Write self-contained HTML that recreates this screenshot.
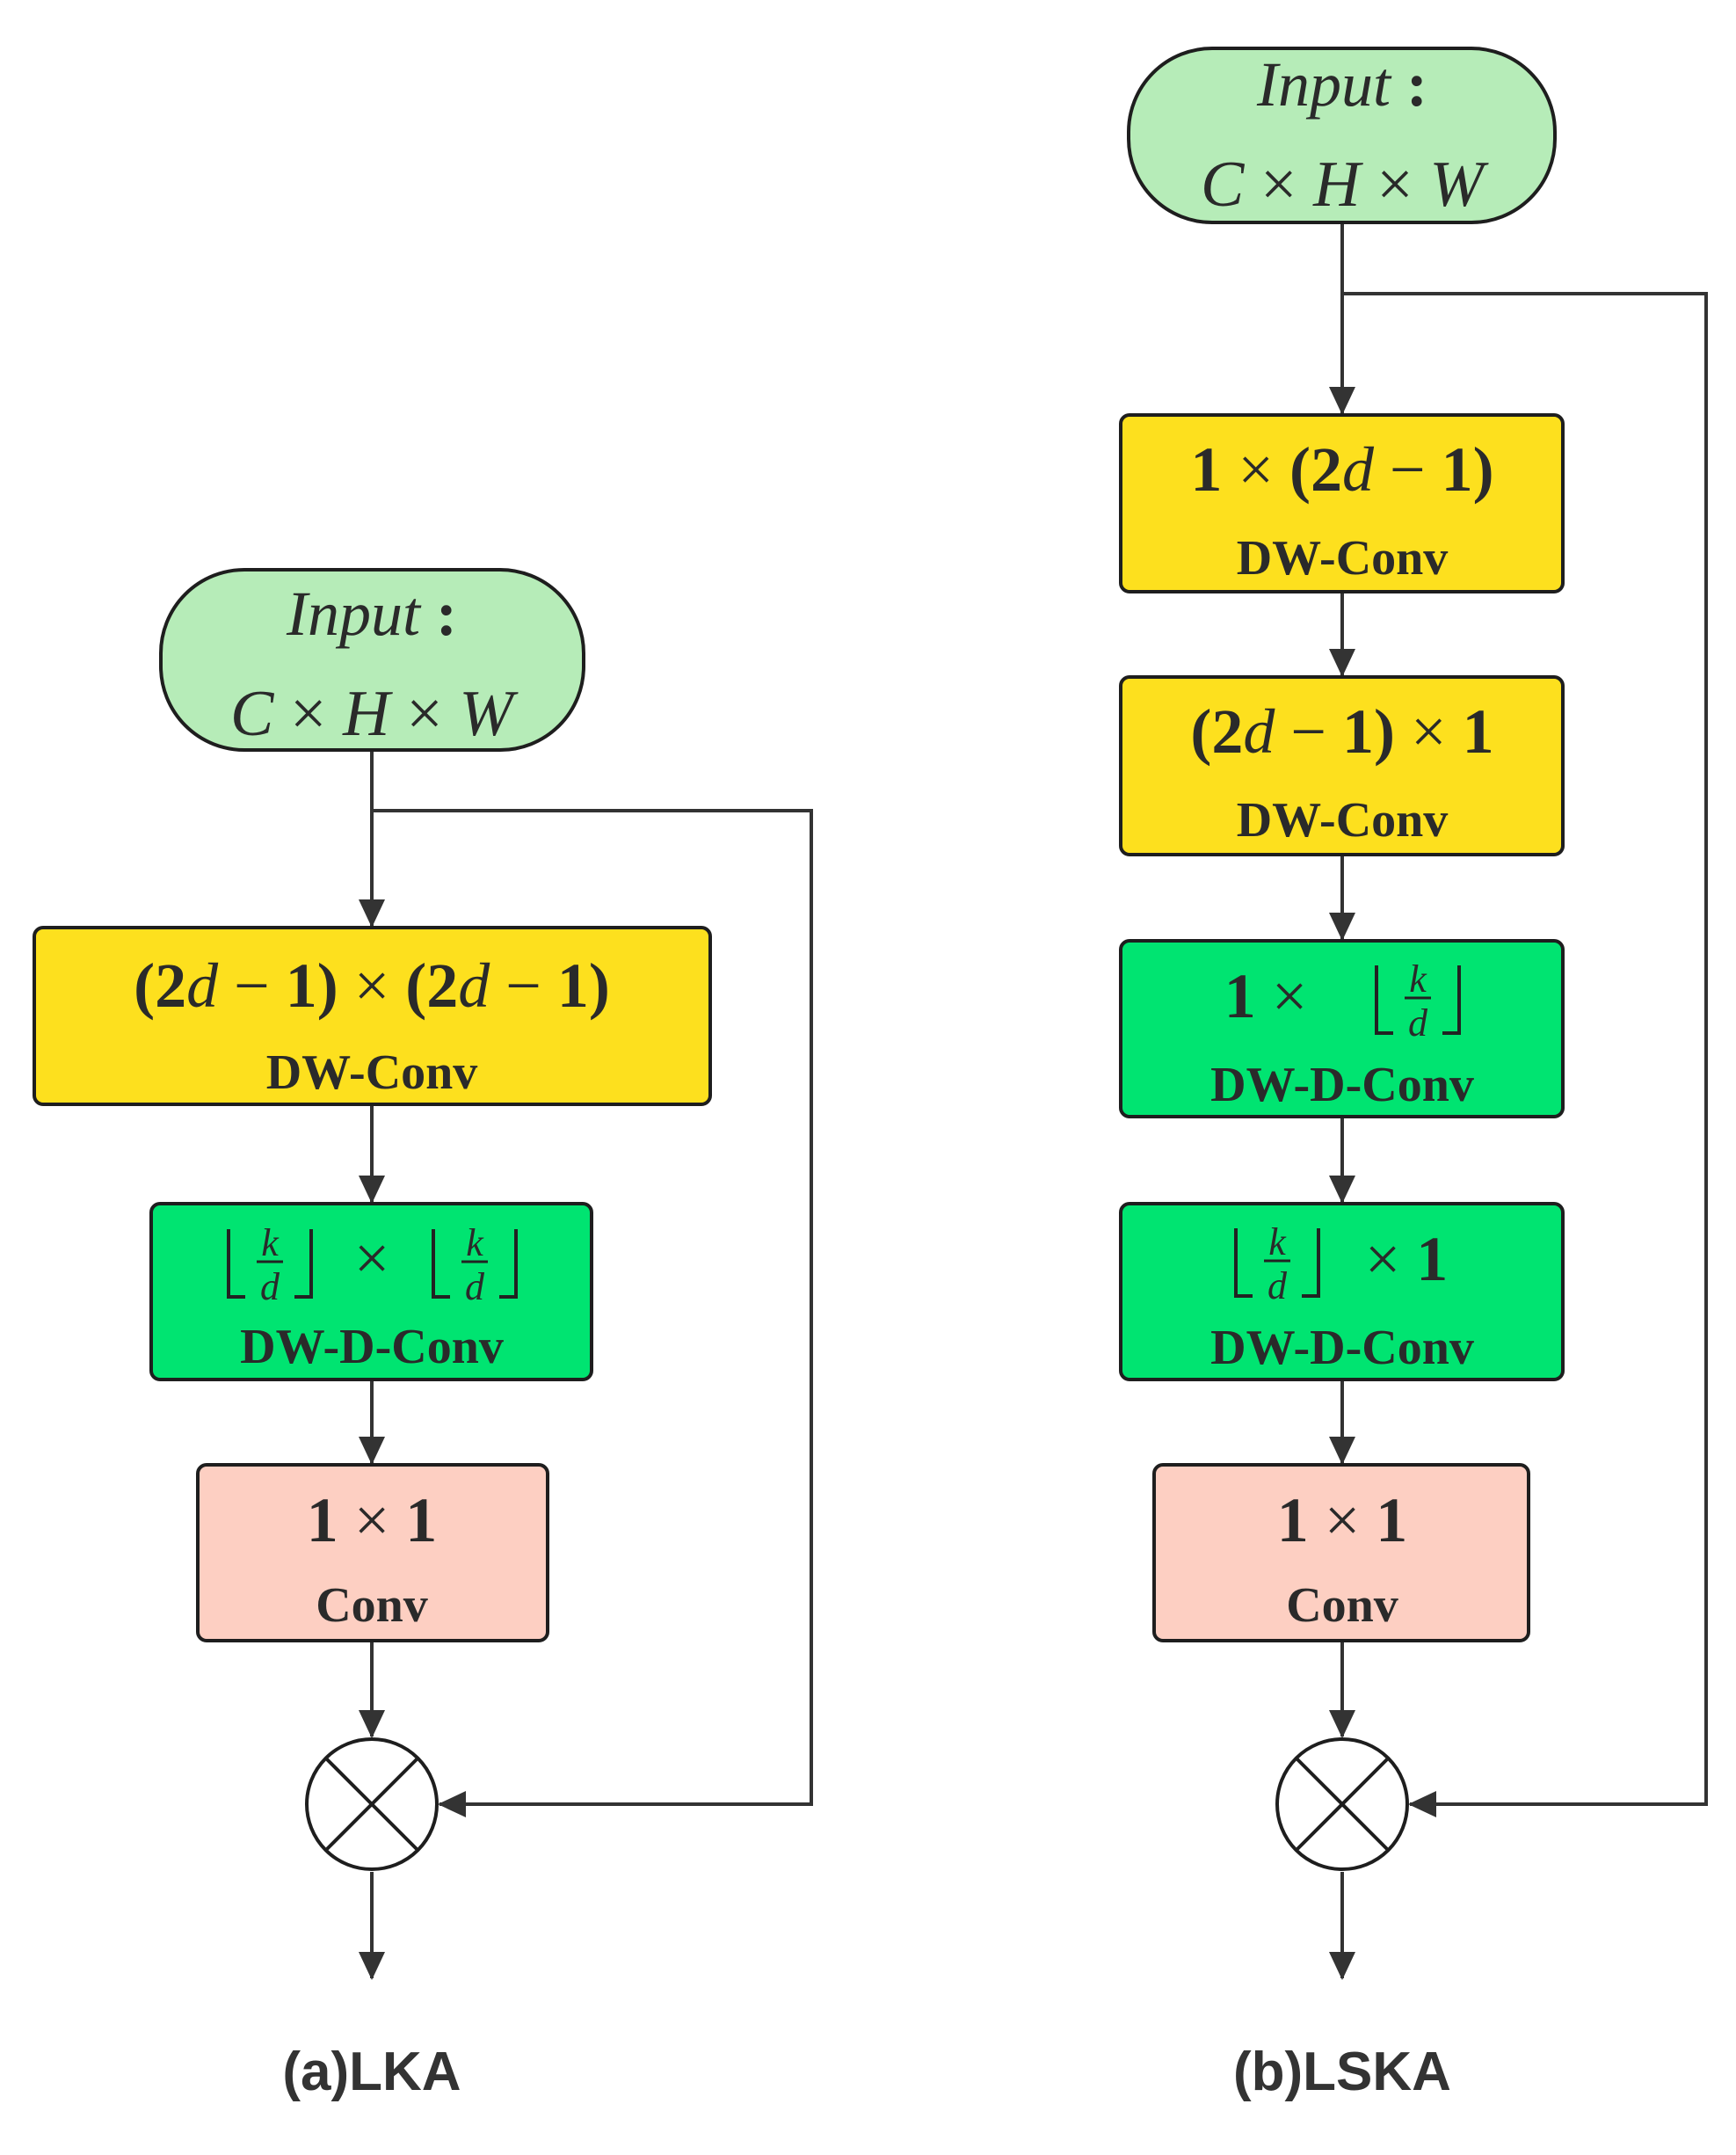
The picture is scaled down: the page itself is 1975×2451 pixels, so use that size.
<!DOCTYPE html>
<html><head><meta charset="utf-8"><style>
html,body{margin:0;padding:0;background:#fff;}
svg{display:block;}
.m{font-family:"Liberation Serif",serif;fill:#2a2a2a;}
.b{font-weight:bold;}
.i{font-style:italic;}
.lbl{font-family:"Liberation Sans",sans-serif;font-weight:bold;fill:#333;}
</style></head><body>
<svg width="1975" height="2451" viewBox="0 0 1975 2451" xmlns="http://www.w3.org/2000/svg">
<defs>
<marker id="ar" markerWidth="34" markerHeight="34" refX="30" refY="17" orient="auto" markerUnits="userSpaceOnUse">
<path d="M0,2 L32,17 L0,32 Z" fill="#333"/>
</marker>
</defs>
<g stroke="#333" stroke-width="4" fill="none">
<!-- Left connectors -->
<line x1="423" y1="853" x2="423" y2="1053" marker-end="url(#ar)"/>
<polyline points="423,922 923,922 923,2052 500,2052" marker-end="url(#ar)"/>
<line x1="423" y1="1256" x2="423" y2="1367" marker-end="url(#ar)"/>
<line x1="423" y1="1569" x2="423" y2="1664" marker-end="url(#ar)"/>
<line x1="423" y1="1866" x2="423" y2="1975" marker-end="url(#ar)"/>
<line x1="423" y1="2129" x2="423" y2="2250" marker-end="url(#ar)"/>
<!-- Right connectors -->
<line x1="1527" y1="253" x2="1527" y2="470" marker-end="url(#ar)"/>
<polyline points="1527,334 1941,334 1941,2052 1604,2052" marker-end="url(#ar)"/>
<line x1="1527" y1="673" x2="1527" y2="768" marker-end="url(#ar)"/>
<line x1="1527" y1="972" x2="1527" y2="1068" marker-end="url(#ar)"/>
<line x1="1527" y1="1270" x2="1527" y2="1367" marker-end="url(#ar)"/>
<line x1="1527" y1="1569" x2="1527" y2="1664" marker-end="url(#ar)"/>
<line x1="1527" y1="1866" x2="1527" y2="1975" marker-end="url(#ar)"/>
<line x1="1527" y1="2129" x2="1527" y2="2250" marker-end="url(#ar)"/>
</g>
<!-- Boxes -->
<g stroke="#1e1e1e" stroke-width="4">
<rect x="183" y="648" width="481" height="205" rx="95" fill="#b6ecb8"/>
<rect x="39" y="1055" width="769" height="201" rx="10" fill="#fde01e"/>
<rect x="172" y="1369" width="501" height="200" rx="10" fill="#00e471"/>
<rect x="225" y="1666" width="398" height="200" rx="10" fill="#fdcfc2"/>
<circle cx="423" cy="2052" r="74" fill="#fff"/>
<rect x="1284" y="55" width="485" height="198" rx="95" fill="#b6ecb8"/>
<rect x="1275" y="472" width="503" height="201" rx="10" fill="#fde01e"/>
<rect x="1275" y="770" width="503" height="202" rx="10" fill="#fde01e"/>
<rect x="1275" y="1070" width="503" height="200" rx="10" fill="#00e471"/>
<rect x="1275" y="1369" width="503" height="200" rx="10" fill="#00e471"/>
<rect x="1313" y="1666" width="426" height="200" rx="10" fill="#fdcfc2"/>
<circle cx="1527" cy="2052" r="74" fill="#fff"/>
</g>
<g stroke="#1e1e1e" stroke-width="4">
<line x1="372" y1="2001" x2="474" y2="2103"/><line x1="474" y1="2001" x2="372" y2="2103"/>
<line x1="1476" y1="2001" x2="1578" y2="2103"/><line x1="1578" y1="2001" x2="1476" y2="2103"/>
</g>
<!-- Left text -->
<text class="m i" x="423" y="722" font-size="72" text-anchor="middle">Input <tspan class="b" font-style="normal">:</tspan></text>
<text class="m i" x="423" y="836" font-size="74" text-anchor="middle">C <tspan font-style="normal">×</tspan> H <tspan font-style="normal">×</tspan> W</text>
<text class="m" x="423" y="1145" font-size="72" text-anchor="middle"><tspan class="b">(2</tspan><tspan class="i">d</tspan> − <tspan class="b">1)</tspan> × <tspan class="b">(2</tspan><tspan class="i">d</tspan> − <tspan class="b">1)</tspan></text>
<text class="m b" x="423" y="1238" font-size="56" text-anchor="middle">DW-Conv</text>
<text class="m b" x="423" y="1550" font-size="56" text-anchor="middle">DW-D-Conv</text>
<text class="m" x="423" y="1455" font-size="72" text-anchor="middle">×</text>
<text class="m" x="423" y="1753" font-size="72" text-anchor="middle"><tspan class="b">1</tspan> × <tspan class="b">1</tspan></text>
<text class="m b" x="423" y="1844" font-size="56" text-anchor="middle">Conv</text>
<text class="lbl" x="423" y="2377" font-size="62" text-anchor="middle">(a)LKA</text>
<!-- Right text -->
<text class="m i" x="1527" y="120" font-size="72" text-anchor="middle">Input <tspan class="b" font-style="normal">:</tspan></text>
<text class="m i" x="1527" y="234" font-size="74" text-anchor="middle">C <tspan font-style="normal">×</tspan> H <tspan font-style="normal">×</tspan> W</text>
<text class="m" x="1527" y="558" font-size="72" text-anchor="middle"><tspan class="b">1</tspan> × <tspan class="b">(2</tspan><tspan class="i">d</tspan> − <tspan class="b">1)</tspan></text>
<text class="m b" x="1527" y="653" font-size="56" text-anchor="middle">DW-Conv</text>
<text class="m" x="1527" y="856" font-size="72" text-anchor="middle"><tspan class="b">(2</tspan><tspan class="i">d</tspan> − <tspan class="b">1)</tspan> × <tspan class="b">1</tspan></text>
<text class="m b" x="1527" y="951" font-size="56" text-anchor="middle">DW-Conv</text>
<text class="m" x="1440" y="1157" font-size="72" text-anchor="middle"><tspan class="b">1</tspan> ×</text>
<text class="m b" x="1527" y="1252" font-size="56" text-anchor="middle">DW-D-Conv</text>
<text class="m" x="1600" y="1456" font-size="72" text-anchor="middle">× <tspan class="b">1</tspan></text>
<text class="m b" x="1527" y="1551" font-size="56" text-anchor="middle">DW-D-Conv</text>
<text class="m" x="1527" y="1753" font-size="72" text-anchor="middle"><tspan class="b">1</tspan> × <tspan class="b">1</tspan></text>
<text class="m b" x="1527" y="1844" font-size="56" text-anchor="middle">Conv</text>
<text class="lbl" x="1527" y="2377" font-size="62" text-anchor="middle">(b)LSKA</text>
<!-- floor fractions -->
<g id="f1" transform="translate(257,1398)">
<path d="M3,0 V77 H22 M97,0 V77 H78" stroke="#222" stroke-width="4" fill="none"/>
<text class="m i" x="50" y="30" font-size="44" text-anchor="middle">k</text>
<line x1="35" y1="37" x2="65" y2="37" stroke="#222" stroke-width="3"/>
<text class="m i" x="50" y="80" font-size="44" text-anchor="middle">d</text>
</g>
<use href="#f1" transform="translate(233,0)"/>
<use href="#f1" transform="translate(1306,-300)"/>
<use href="#f1" transform="translate(1146,-1)"/>
</svg>
</body></html>
